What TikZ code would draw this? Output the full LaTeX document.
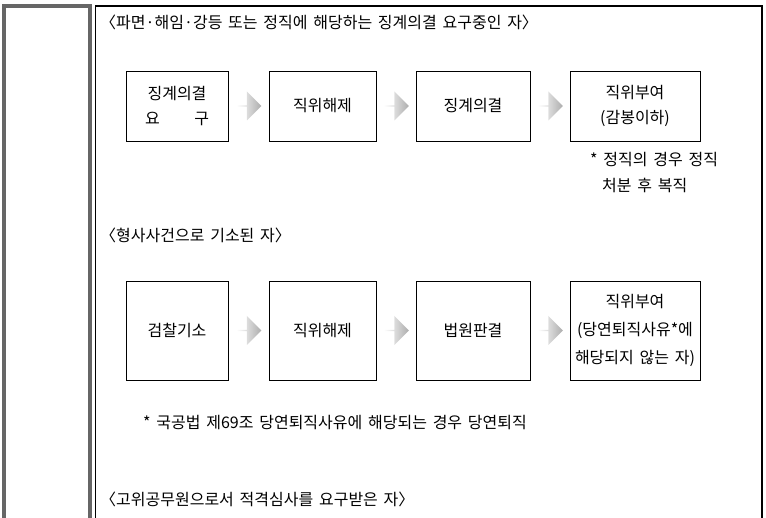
\documentclass[tikz,border=0pt]{standalone}
\usepackage{fontspec}
\setmainfont{Noto Sans CJK KR}
\usetikzlibrary{shapes.arrows,calc}

\newcommand\korfont{\fontsize{16}{25}\selectfont\spaceskip=0.36em plus 0.1em\relax}
\tikzstyle{stage}=[draw, line width=0.8pt, inner sep=0pt, align=center, font=\korfont]
\tikzstyle{flow}=[single arrow, draw=none, left color=white, right color=black!32, minimum width=29pt, minimum height=25pt, single arrow head extend=5.5pt, inner sep=0pt]
\tikzstyle{heading}=[anchor=west, inner sep=0pt, font=\korfont]

\begin{document}
\begin{tikzpicture}[x=1pt, y=-1pt]
  \useasboundingbox (0,0) rectangle (766,518);
  % table frame
  \draw[line width=4pt, black!60] (4,522) -- (4,6) -- (90,6) -- (90,522);
  \draw[line width=1.5pt] (95.5,522) -- (95.5,6) -- (762,6) -- (762,522);

  % first case
  \node[heading] (h1) at (100,22) {〈파면·해임·강등 또는 정직에 해당하는 징계의결 요구중인 자〉};
  \node[stage, minimum width=102pt, minimum height=70pt] (a1) at (177,106) {징계의결\\\makebox[4em]{요\hfill 구}};
  \node[stage, minimum width=107pt, minimum height=70pt] (a2) at (322.5,106) {직위해제};
  \node[stage, minimum width=114pt, minimum height=70pt] (a3) at (473,106) {징계의결};
  \node[stage, minimum width=130pt, minimum height=70pt] (a4) at (635,106) {직위부여\\(감봉이하)};
  \node[heading] (n1) at (590,160) {* 정직의 경우 정직};
  \node[heading] (n2) at (602,185) {처분 후 복직};

  % second case
  \node[heading] (h2) at (100,235) {〈형사사건으로 기소된 자〉};
  \node[stage, minimum width=102pt, minimum height=99pt] (b1) at (177,330.5) {검찰기소};
  \node[stage, minimum width=107pt, minimum height=99pt] (b2) at (322.5,330.5) {직위해제};
  \node[stage, minimum width=114pt, minimum height=99pt] (b3) at (473,330.5) {법원판결};
  \node[stage, minimum width=130pt, minimum height=99pt] (b4) at (635,330.5) {직위부여\\[3pt](당연퇴직사유*에\\[3pt]해당되지 않는 자)};
  \node[heading] (n3) at (143,423) {* 국공법 제69조 당연퇴직사유에 해당되는 경우 당연퇴직};

  % third case
  \node[heading] (h3) at (100,499) {〈고위공무원으로서 적격심사를 요구받은 자〉};

  \foreach \src/\dst in {a1/a2, a2/a3, a3/a4, b1/b2, b2/b3, b3/b4} {
    \node[flow] (f-\src) at ($(\src.east)!0.5!(\dst.west)$) {};
  }
\end{tikzpicture}
\end{document}
